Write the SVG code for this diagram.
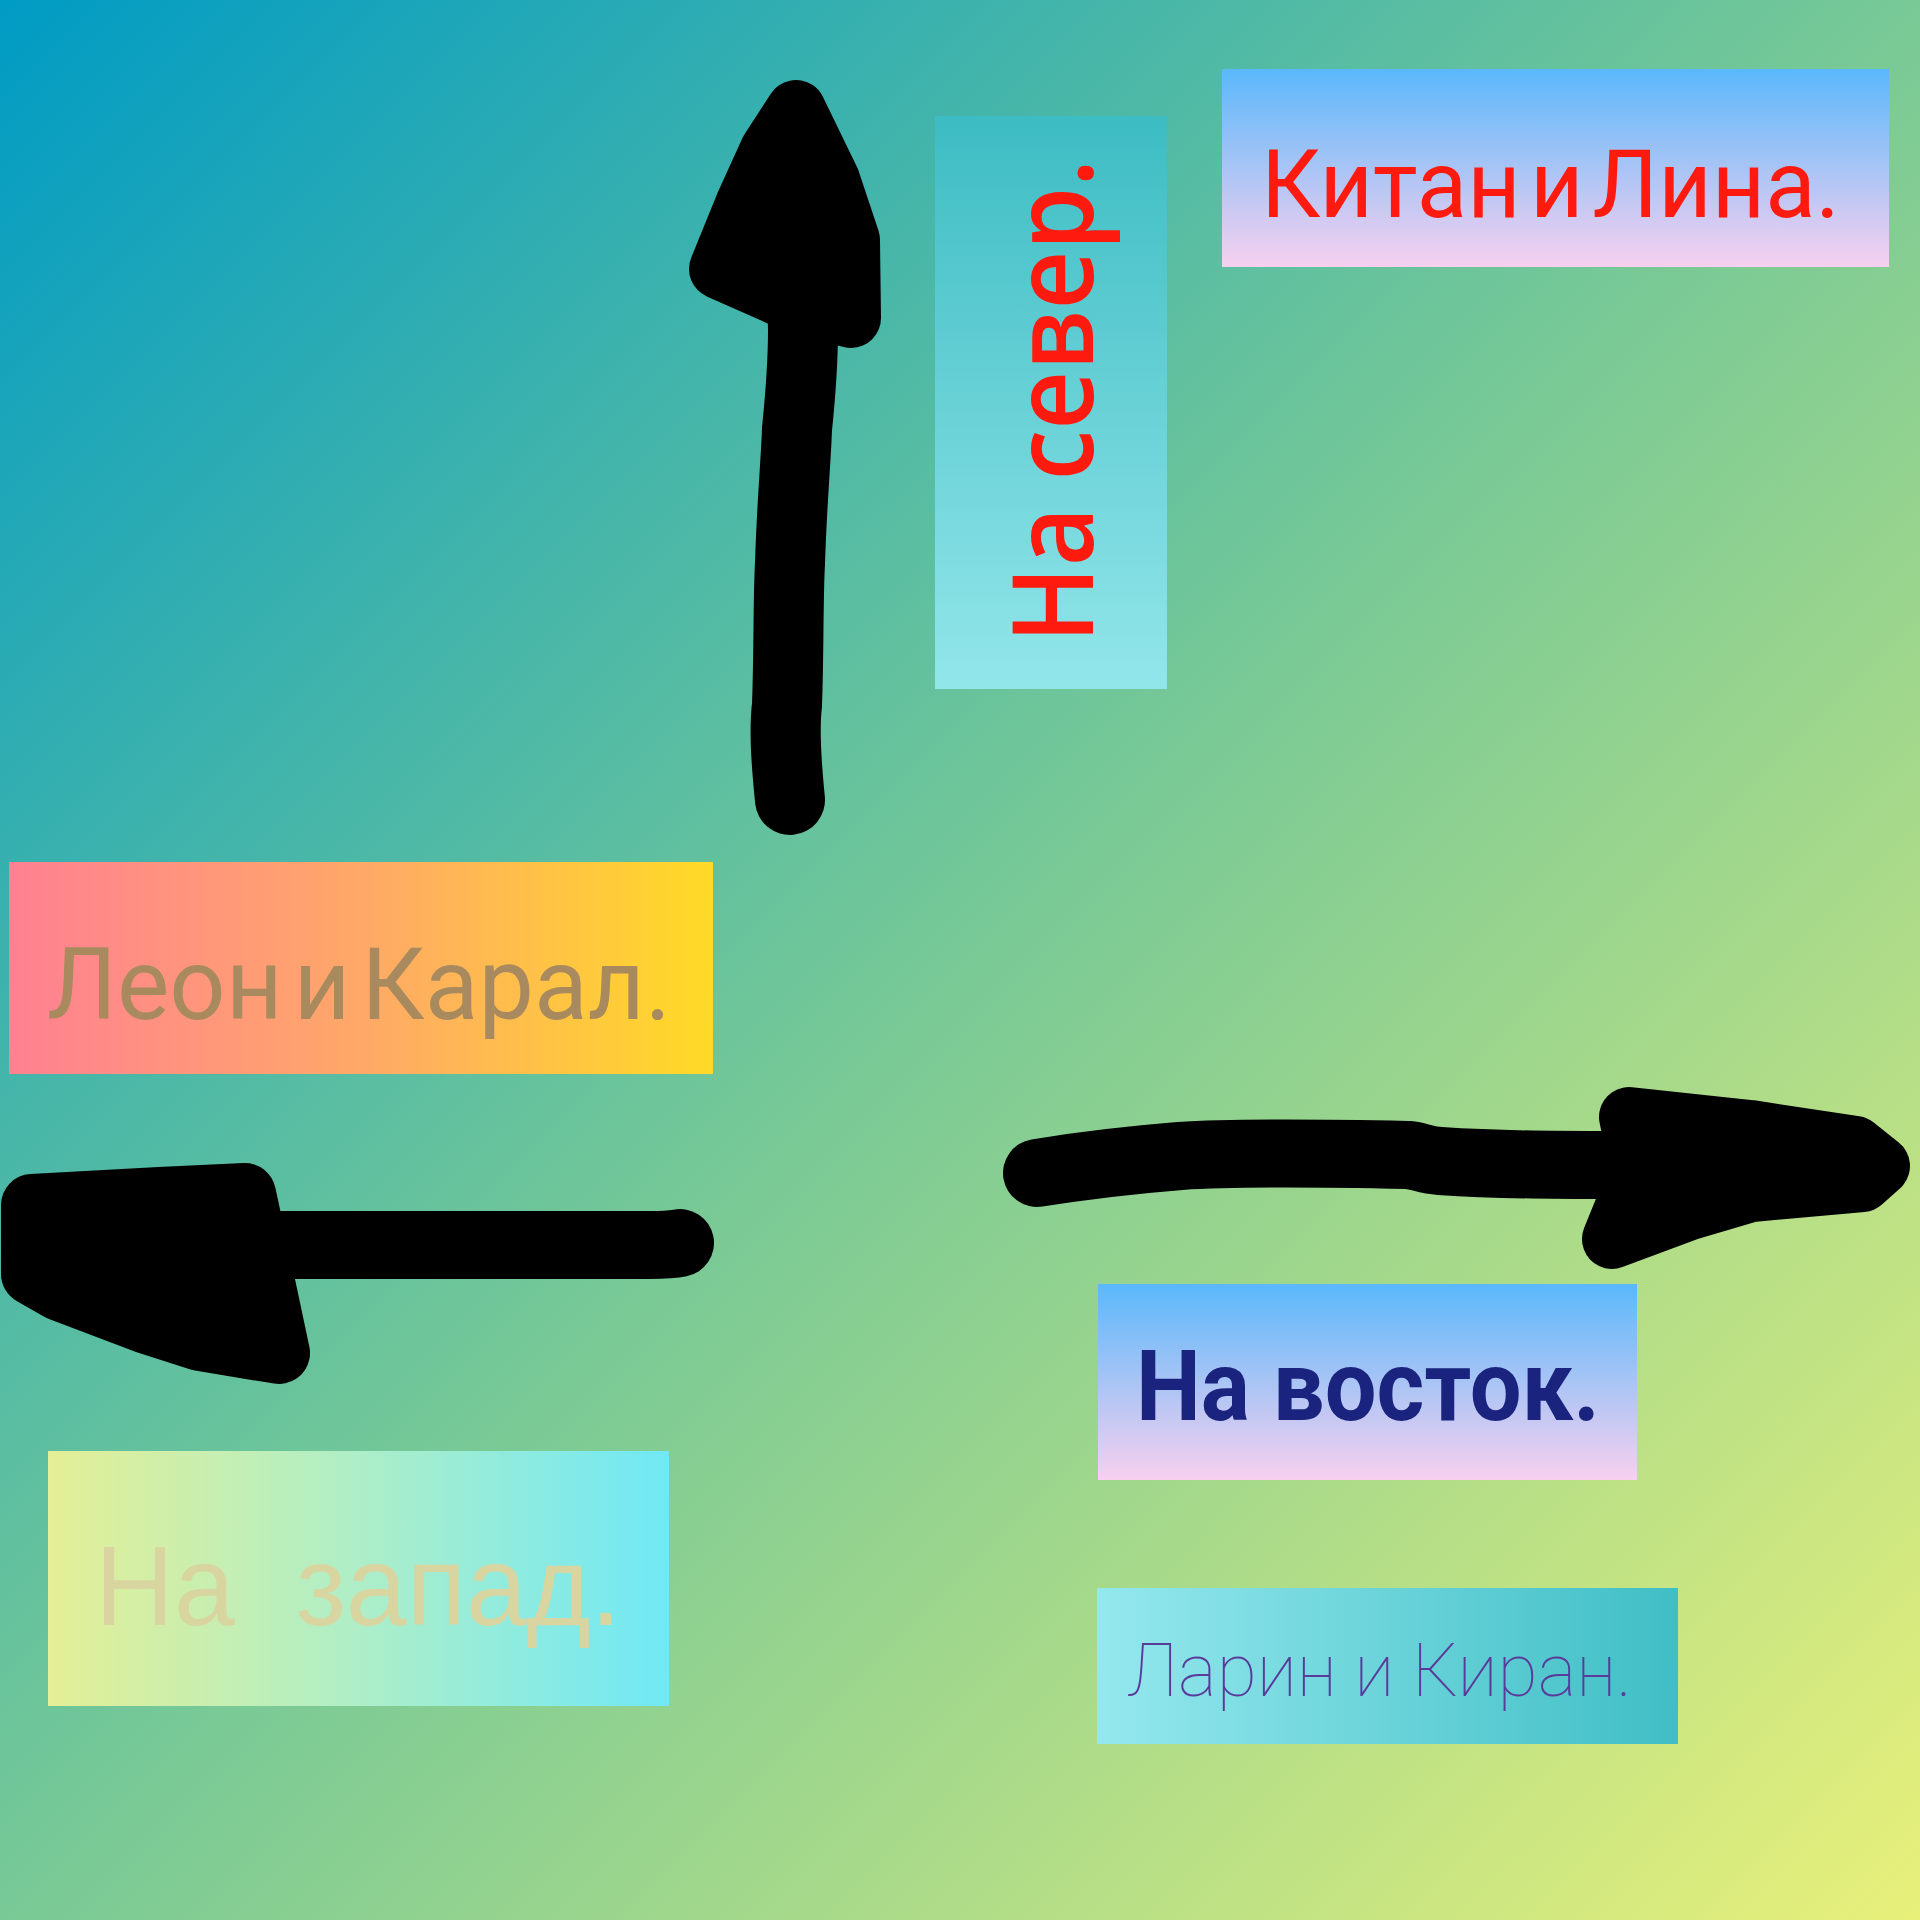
<svg xmlns="http://www.w3.org/2000/svg" width="1920" height="1920" viewBox="0 0 1920 1920">
<defs>
<linearGradient id="bg" x1="0" y1="0" x2="1920" y2="1920" gradientUnits="userSpaceOnUse">
<stop offset="0" stop-color="#009bc4"/>
<stop offset="0.5" stop-color="#78c996"/>
<stop offset="1" stop-color="#e8f07a"/>
</linearGradient>
<linearGradient id="bluePink" x1="0" y1="0" x2="0" y2="1">
<stop offset="0" stop-color="#5ab8fb"/>
<stop offset="1" stop-color="#f7d0ef"/>
</linearGradient>
<linearGradient id="tealV" x1="0" y1="0" x2="0" y2="1">
<stop offset="0" stop-color="#3dbcc3"/>
<stop offset="1" stop-color="#92e6ea"/>
</linearGradient>
<linearGradient id="pinkYellow" x1="0" y1="0" x2="1" y2="0">
<stop offset="0" stop-color="#ff8092"/>
<stop offset="0.5" stop-color="#ffa868"/>
<stop offset="1" stop-color="#ffda26"/>
</linearGradient>
<linearGradient id="yellowCyan" x1="0" y1="0" x2="1" y2="0">
<stop offset="0" stop-color="#e4ef96"/>
<stop offset="0.5" stop-color="#aeeec8"/>
<stop offset="1" stop-color="#70e8f5"/>
</linearGradient>
<linearGradient id="cyanTeal" x1="0" y1="0" x2="1" y2="0">
<stop offset="0" stop-color="#94e8ee"/>
<stop offset="1" stop-color="#40bec5"/>
</linearGradient>
</defs>
<style>
.arrow{fill:none;stroke:#000;stroke-linecap:round;stroke-linejoin:round}
.head{fill:#000;stroke:#000;stroke-linecap:round;stroke-linejoin:round}
.roboto{font-family:Roboto,"Liberation Sans",sans-serif}
</style>
<rect x="0" y="0" width="1920" height="1920" fill="url(#bg)"/>

<g id="kitan">
<rect x="1222" y="69" width="667" height="198" fill="url(#bluePink)"/>
<text class="roboto" x="1261" y="217" font-size="94" fill="#ff1a10" word-spacing="-14" textLength="579" lengthAdjust="spacingAndGlyphs">Китан и Лина.</text>
</g>

<g id="north">
<rect x="935" y="116" width="232" height="573" fill="url(#tealV)"/>
<text transform="translate(1093,643) rotate(-90)" x="0" y="0" font-family="'Open Sans',sans-serif" font-weight="600" font-size="112" fill="#ff1a10" textLength="484" lengthAdjust="spacingAndGlyphs">На север.</text>
</g>

<g id="leon">
<rect x="9" y="862" width="704" height="212" fill="url(#pinkYellow)"/>
<text class="roboto" x="47" y="1019" font-size="101" fill="#a88a5e" word-spacing="-14" textLength="624" lengthAdjust="spacingAndGlyphs">Леон и Карал.</text>
</g>

<g id="east">
<rect x="1098" y="1284" width="539" height="196" fill="url(#bluePink)"/>
<text class="roboto" x="1136" y="1420" font-size="98" font-weight="700" fill="#1a237e" textLength="464" lengthAdjust="spacingAndGlyphs">На восток.</text>
</g>

<g id="west">
<rect x="48" y="1451" width="621" height="255" fill="url(#yellowCyan)"/>
<text x="95" y="1625" font-family="'Liberation Sans',Arial,sans-serif" font-size="114" fill="#d9d5a0" style="white-space:pre" textLength="526" lengthAdjust="spacingAndGlyphs">На  запад.</text>
</g>

<g id="larin">
<rect x="1097" y="1588" width="581" height="156" fill="url(#cyanTeal)"/>
<text class="roboto" x="1127" y="1696" font-size="74" font-weight="100" fill="#5a3a9a" textLength="505" lengthAdjust="spacingAndGlyphs">Ларин и Киран.</text>
</g>

<g id="connectors">
<path class="arrow" stroke-width="70" d="M790,800 C786,760 784,730 787,705 C789,650 788,600 790,563 C792,500 796,460 797,429 C801,390 803,360 803,330 L800,200"/>
<path class="head" stroke-width="60" d="M719,269 L745,205 L770,150 L796,110 L830,180 L850,240 L851,318 L800,305 Z"/>
<path class="arrow" stroke-width="68" d="M680,1243 C670,1245 660,1245 649,1245 L230,1245"/>
<path class="head" stroke-width="62" d="M32,1205 L160,1198 L245,1194 L255,1240 L279,1353 L200,1340 L147,1323 L60,1290 L32,1274 Z"/>
<path class="arrow" stroke-width="68" d="M1037,1173 C1080,1166 1130,1160 1180,1156 C1240,1152 1360,1154 1408,1155 C1420,1156 1425,1160 1440,1161 C1500,1165 1560,1165 1640,1165"/>
<path class="head" stroke-width="60" d="M1629,1117 L1750,1130 L1855,1146 L1880,1166 L1862,1182 L1751,1192 L1690,1210 L1612,1239 L1640,1170 Z"/>
</g>
</svg>
